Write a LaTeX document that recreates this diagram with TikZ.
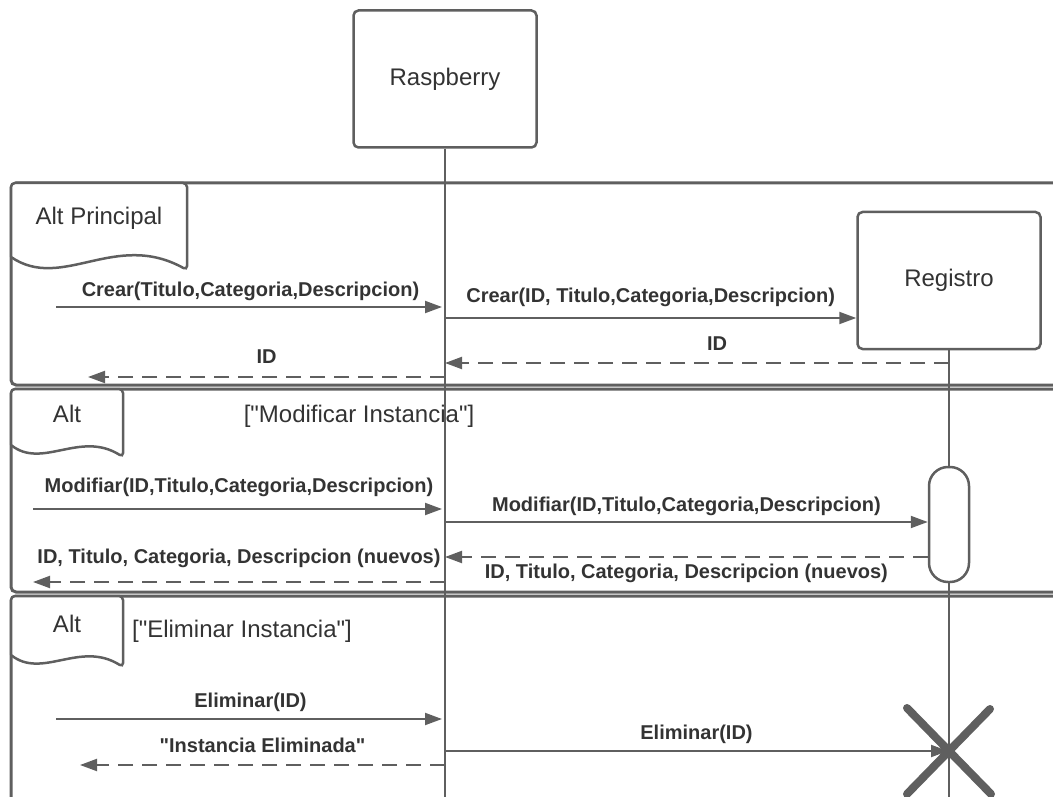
\documentclass[tikz,border=0pt]{standalone}
\usepackage{fontspec}
\setmainfont{Liberation Sans}[Ligatures=TeXOff]
\usepackage{tikz}
\usetikzlibrary{positioning, arrows.meta}
\definecolor{linegray}{RGB}{95,95,95}
\definecolor{textgray}{RGB}{51,51,51}
\tikzset{% 
	lane/.style = {draw = linegray, line width = 2.5pt, rounded corners = 5pt, fill = white, minimum width = 183pt, minimum height = 137pt, inner sep = 0pt, text = textgray, font = \fontsize{24}{28}\selectfont},
	life/.style = {draw = linegray, line width = 2.5pt},
	frm/.style = {draw = linegray, line width = 3pt, rounded corners = 5pt},
	tab/.style = {draw = linegray, line width = 2.5pt, fill = white, rounded corners = 4pt},
	act/.style = {draw = linegray, line width = 2.5pt, fill = white, rounded corners = 19pt, minimum width = 40pt, minimum height = 115pt},
	kill/.style = {draw = linegray, line width = 8pt, line cap = round},
	msg/.style = {draw = linegray, line width = 2pt, -{Triangle[length = 17pt, width = 12pt]}},
	ret/.style = {msg, dash pattern = on 15pt off 9pt},
	lbl/.style = {anchor = base, inner sep = 0pt, text = textgray, font = \fontsize{20}{24}\selectfont\bfseries},
	ttl/.style = {anchor = base, inner sep = 0pt, text = textgray, font = \fontsize{24}{28}\selectfont}
}
\begin{document}
\begin{tikzpicture}[x = 1pt, y = -1pt]
			\useasboundingbox (0,0) rectangle (1053,797);
			\clip (0,0) rectangle (1053,797);
			% frames
			\draw [frm] (11,183) rectangle (1075,385);
			\draw [frm] (11,389) rectangle (1075,592);
			\draw [frm] (11,596) rectangle (1075,808);
			\draw [tab] (11,257) -- (11,183) -- (187,183) -- (187,270) .. controls (115,230) and (62,292) .. (11,257);
			\draw [tab] (11,445) -- (11,389) -- (123,389) -- (123,457) .. controls (80,430) and (42,470) .. (11,445);
			\draw [tab] (11,655) -- (11,596) -- (123,596) -- (123,667) .. controls (80,640) and (42,680) .. (11,655);
			\node [ttl] (altmain) at (99,225) {Alt Principal};
			\node [ttl] (altmod) at (67,422) {Alt};
			\node [ttl] (condmod) at (359,422) {["Modificar Instancia"]};
			\node [ttl] (altdel) at (67,632) {Alt};
			\node [ttl] (conddel) at (242,637) {["Eliminar Instancia"]};
			% lifelines
			\node [lane] (rasp) at (445,79) {Raspberry};
			\node [lane] (reg) at (949,280.5) {Registro};
			\coordinate (bottom) at (0,800);
			\draw [life] (rasp.south) -- (rasp.south |- bottom);
			\draw [life] (reg.south) -- (reg.south |- bottom);
			\node [act] (bar) at (949,524.5) {};
			\coordinate (xc) at (948,751);
			\draw [kill] (xc) +(-41,-43) -- +(43,43) (xc) +(42,-42) -- +(-41,43);
			% Alt Principal
			\coordinate (c1) at (56,307);
			\coordinate (c2) at (445,318);
			\coordinate (c3) at (949,363);
			\coordinate (c4) at (445,377);
			\coordinate (c4e) at (88,377);
			\path (c1) edge [msg, shorten > = 3pt] node [lbl, yshift = 11pt] {Crear(Titulo,Categoria,Descripcion)} (c1 -| rasp.south);
			\path (c2) edge [msg] node [lbl, yshift = 16pt] {Crear(ID, Titulo,Categoria,Descripcion)} (c2 -| reg.west);
			\path (c3) edge [ret] node [lbl, yshift = 13pt, xshift = 20pt] {ID} (c3 -| rasp.south);
			\path (c4) edge [ret] node [lbl, yshift = 14pt] {ID} (c4e);
			% Modificar
			\coordinate (m1) at (33,509);
			\coordinate (m2) at (445,522);
			\coordinate (m3) at (929,557);
			\coordinate (m4) at (445,582);
			\coordinate (m4e) at (33,582);
			\path (m1) edge [msg, shorten > = 3pt] node [lbl, yshift = 17pt] {Modifiar(ID,Titulo,Categoria,Descripcion)} (m1 -| rasp.south);
			\path (m2) edge [msg] node [lbl, yshift = 11pt] {Modifiar(ID,Titulo,Categoria,Descripcion)} (m2 -| bar.west);
			\path (m3 -| bar.west) edge [ret] node [lbl, yshift = -21pt] {ID, Titulo, Categoria, Descripcion (nuevos)} (m3 -| rasp.south);
			\path (m4) edge [ret] node [lbl, yshift = 19pt] {ID, Titulo, Categoria, Descripcion (nuevos)} (m4e);
			% Eliminar
			\coordinate (e1) at (56,719);
			\coordinate (e2) at (445,751);
			\coordinate (e3) at (445,765);
			\coordinate (e3e) at (80,765);
			\path (e1) edge [msg, shorten > = 3pt] node [lbl, yshift = 12pt] {Eliminar(ID)} (e1 -| rasp.south);
			\path (e2) edge [msg] node [lbl, yshift = 12pt] {Eliminar(ID)} (xc);
			\path (e3) edge [ret] node [lbl, yshift = 13pt] {"Instancia Eliminada"} (e3e);
\end{tikzpicture}
\end{document}
